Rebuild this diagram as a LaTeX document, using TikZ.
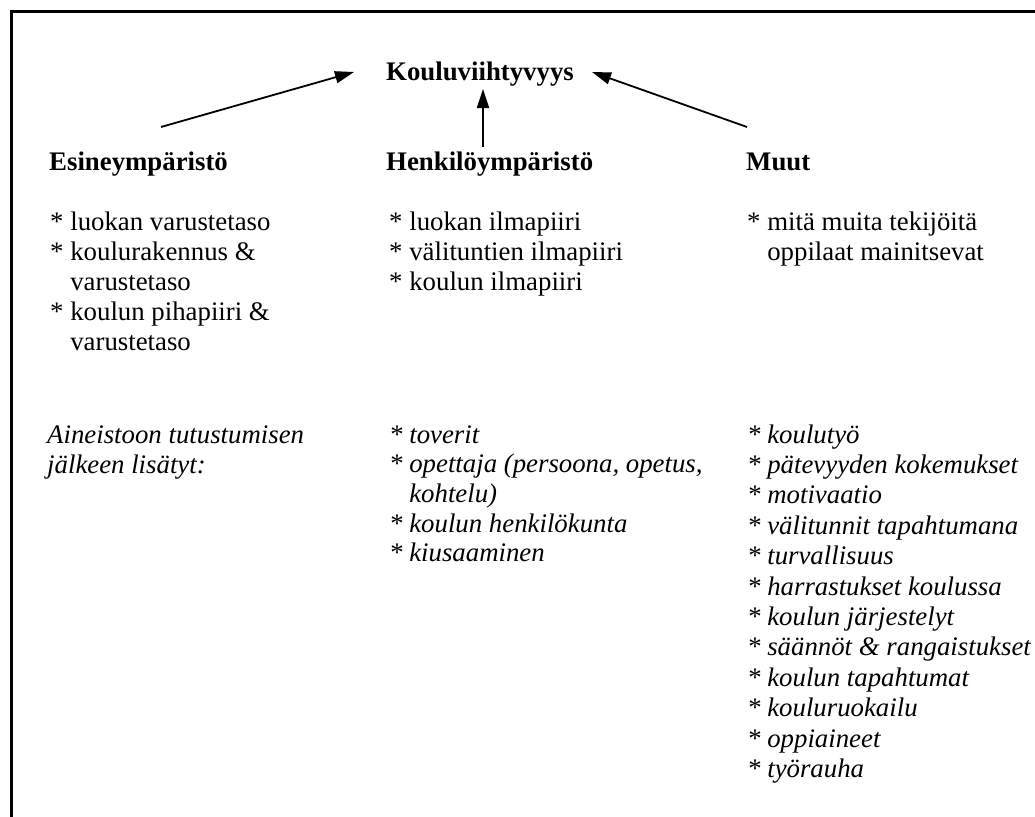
\documentclass[tikz,border=0pt]{standalone}
\usepackage{fontspec}
\setmainfont{Liberation Serif}
\usetikzlibrary{arrows.meta}
\begin{document}
\begin{tikzpicture}[x=1pt,y=-1pt,
  txt/.style={anchor=base west,inner sep=0pt,font=\fontsize{26.8pt}{30pt}\selectfont},
  head/.style={txt,font=\fontsize{26.8pt}{30pt}\selectfont\bfseries},
  itl/.style={txt,font=\fontsize{26.8pt}{30pt}\selectfont\itshape},
  arr/.style={line width=1.8pt,-{Triangle[length=19pt,width=12pt]}},
  frame/.style={line width=3pt}]
\useasboundingbox (0,0) rectangle (1035,816);
% open frame: top and left rules
\draw[frame] (11,820) -- (11,12) -- (1040,12);

% title and column headings
\node[head] (title) at (386,80) {Kouluviihtyvyys};
\node[head] (hE) at (49,170) {Esineympäristö};
\node[head] (hH) at (386,170) {Henkilöympäristö};
\node[head] (hM) at (746,170) {Muut};

% arrows towards the title
\coordinate (aEs) at (161,127);
\coordinate (aEe) at (354,72);
\coordinate (aHs) at (483,147);
\coordinate (aHe) at (483,89);
\coordinate (aMs) at (747,127);
\coordinate (aMe) at (592,72);
\draw[arr] (aEs) -- (aEe);
\draw[arr] (aHs) -- (aHe);
\draw[arr] (aMs) -- (aMe);

% original items
\foreach \t [count=\i] in {{* luokan varustetaso},{* koulurakennus \&},{\hphantom{*\ }varustetaso},{* koulun pihapiiri \&},{\hphantom{*\ }varustetaso}}
  \node[txt] (e\i) at (50,230+30*\i-30) {\t};
\foreach \t [count=\i] in {{* luokan ilmapiiri},{* välituntien ilmapiiri},{* koulun ilmapiiri}}
  \node[txt] (h\i) at (389,230+30*\i-30) {\t};
\foreach \t [count=\i] in {{* mitä muita tekijöitä},{\hphantom{*\ }oppilaat mainitsevat}}
  \node[txt] (m\i) at (747,230+30*\i-30) {\t};

% items added after reading the material
\foreach \t [count=\i] in {{Aineistoon tutustumisen},{jälkeen lisätyt:}}
  \node[itl] (ie\i) at (47,443+30*\i-30) {\t};
\foreach \t [count=\i] in {{* toverit},{* opettaja (persoona, opetus,},{\hphantom{*\ }kohtelu)},{* koulun henkilökunta},{* kiusaaminen}}
  \node[itl] (ih\i) at (389,443+29.7*\i-29.7) {\t};
\foreach \t [count=\i] in {{* koulutyö},{* pätevyyden kokemukset},{* motivaatio},{* välitunnit tapahtumana},{* turvallisuus},{* harrastukset koulussa},{* koulun järjestelyt},{* säännöt \& rangaistukset},{* koulun tapahtumat},{* kouluruokailu},{* oppiaineet},{* työrauha}}
  \node[itl] (im\i) at (747,443+30.4*\i-30.4) {\t};
\end{tikzpicture}
\end{document}
